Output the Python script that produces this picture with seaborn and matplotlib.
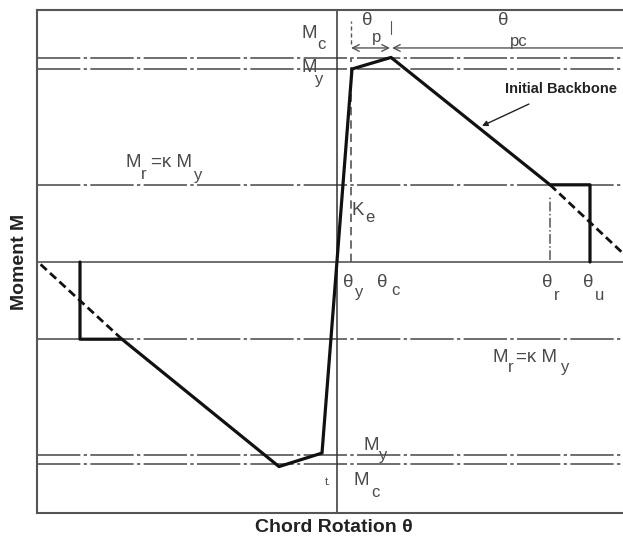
import matplotlib
matplotlib.use("Agg")
import matplotlib.pyplot as plt
import seaborn as sns
import pandas as pd

# ---- data (theta in arbitrary rotation units, M normalised by M_y) ----
theta_backbone = [-25.7, -25.7, -21.5, -5.8, -1.5, 1.5, 5.4, 21.3, 25.3, 25.3]
moment_backbone = [0.0, -0.40, -0.40, -1.06, -0.99, 1.0, 1.06, 0.40, 0.40, 0.0]

theta_ext_pos = [21.3, 28.6]
moment_ext_pos = [0.40, 0.045]
theta_ext_neg = [-21.5, -29.9]
moment_ext_neg = [-0.40, 0.0]

m_levels = [1.055, 1.0, 0.40, -0.40, -1.0, -1.045]

theta_y = 1.4
theta_c = 5.4
theta_r = 21.3
m_residual = 0.40
m_arrow = 1.109

xlim = (-30.0, 28.6)
ylim = (-1.3005, 1.3057)

sns.set_theme(style="white")
plt.rcParams['font.family'] = ['Liberation Sans', 'DejaVu Sans']

fig = plt.figure(figsize=(6.23, 5.41), dpi=100)
ax = fig.add_axes([37 / 623, 1 - 513 / 541, 1 - 37 / 623, (513 - 10) / 541])
ax.set_xlim(*xlim)
ax.set_ylim(*ylim)
ax.set_xticks([])
ax.set_yticks([])
for side in ["left", "top", "bottom"]:
    ax.spines[side].set_color("#555555")
    ax.spines[side].set_linewidth(1.5)
ax.spines["right"].set_visible(False)

gray = "#555555"
dash_style = (0, (26, 2, 2, 2))

# horizontal reference levels
for m in m_levels:
    ax.axhline(m, color=gray, lw=1.2, ls=dash_style, zorder=1)
ax.axhline(0.0, color=gray, lw=1.2, zorder=1)
ax.axvline(0.0, color="#333333", lw=1.1, zorder=1)

# theta_y dashed guide, theta_r dash-dot guide
ax.plot([theta_y, theta_y], [0.0, 1.055], color=gray, lw=1.2, ls=(0, (5, 3)), zorder=1)
ax.plot([theta_y, theta_y], [1.13, 1.25], color=gray, lw=1.0, ls=(0, (3, 2)), zorder=1)
ax.plot([theta_c, theta_c], [1.18, 1.25], color=gray, lw=0.8, zorder=1)
ax.plot([theta_r, theta_r], [0.01, 0.34], color=gray, lw=1.1, ls="dashdot", zorder=1)

# arrows for theta_p and theta_pc
ax.annotate("", xy=(theta_y, m_arrow), xytext=(theta_c - 0.1, m_arrow),
            arrowprops=dict(arrowstyle="<->", color=gray, lw=1.0, shrinkA=0, shrinkB=0))
ax.annotate("", xy=(theta_c + 0.1, m_arrow), xytext=(xlim[1] + 1, m_arrow),
            arrowprops=dict(arrowstyle="->", color=gray, lw=1.0, shrinkA=0, shrinkB=0))

# dashed extensions of the descending branch
ax.plot(theta_ext_pos, moment_ext_pos, color="#111111", lw=2.0, ls=(0, (3, 1.6)), zorder=3)
ax.plot(theta_ext_neg, moment_ext_neg, color="#111111", lw=2.0, ls=(0, (3, 1.6)), zorder=3)

# backbone
df = pd.DataFrame({"theta": theta_backbone, "M": moment_backbone})
sns.lineplot(data=df, x="theta", y="M", sort=False, estimator=None, color="#111111",
             lw=2.3, ax=ax, zorder=4)
ax.set_xlabel("")
ax.set_ylabel("")

# labels with offset subscripts
tc = "#4a4a4a"
def lab(x, y, main, sub, sx, sy, size=13.5, subsize=12):
    ax.text(x, y, main, color=tc, fontsize=size, ha="left", va="baseline", zorder=5)
    ax.text(sx, sy, sub, color=tc, fontsize=subsize, ha="left", va="baseline", zorder=5)

lab(-3.6, 1.161, "M", "c", -2.0, 1.104)
lab(-3.6, 0.984, "M", "y", -2.2, 0.922)
lab(2.5, 1.228, "θ", "p", 3.5, 1.140)
lab(16.1, 1.228, "θ", "pc", 17.3, 1.119)
lab(-21.2, 0.492, "M", "r", -19.6, 0.430)
lab(-18.6, 0.492, "=κ M", "y", -14.3, 0.425)
lab(1.4, 0.244, "K", "e", 2.8, 0.207)
lab(0.6, -0.13, "θ", "y", 1.8, -0.181)
lab(4.0, -0.13, "θ", "c", 5.4, -0.171)
lab(20.5, -0.13, "θ", "r", 21.7, -0.197)
lab(24.6, -0.13, "θ", "u", 25.8, -0.197)
lab(15.5, -0.518, "M", "r", 17.1, -0.570)
lab(17.9, -0.518, "=κ M", "y", 22.4, -0.570)
lab(2.6, -0.974, "M", "y", 4.2, -1.026)
lab(1.6, -1.155, "M", "c", 3.4, -1.218)
ax.text(-1.2, -1.155, "t.", color=tc, fontsize=8, ha="left", va="baseline")

ax.annotate("Initial Backbone", xy=(14.5, 0.705), xytext=(16.8, 0.896),
            fontsize=10.5, fontweight="bold", color="#222222", ha="left", va="center",
            annotation_clip=False,
            arrowprops=dict(arrowstyle="-|>", color="#222222", lw=1.0, shrinkA=8, shrinkB=0,
                            mutation_scale=8))

fig.text(334 / 623, 1 - 528 / 541, "Chord Rotation θ", fontsize=14, fontweight="bold",
         color="#222222", ha="center", va="center")
fig.text(20 / 623, 1 - 262 / 541, "Moment M", fontsize=14, fontweight="bold",
         color="#222222", ha="center", va="center", rotation=90)

fig.savefig("out.png", dpi=100, facecolor="white")
